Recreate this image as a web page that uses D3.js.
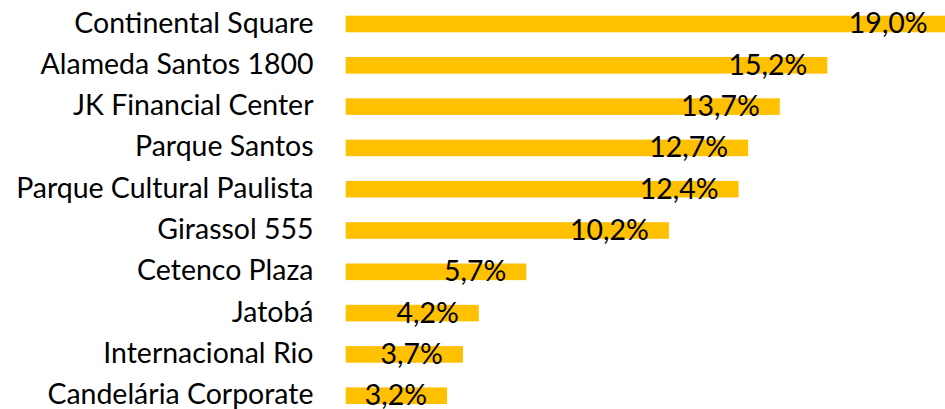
<!DOCTYPE html>
<html>
<head>
<meta charset="utf-8">
<script src="https://cdn.jsdelivr.net/npm/d3@7"></script>
<style>
  html, body { margin: 0; padding: 0; background: #fff; }
  svg { display: block; }
</style>
</head>
<body>
<div id="chart"><svg></svg></div>
<script>
const WIDTH = 945;
const HEIGHT = 409;

// data
const categories = [
  "Continental Square",
  "Alameda Santos 1800",
  "JK Financial Center",
  "Parque Santos",
  "Parque Cultural Paulista",
  "Girassol 555",
  "Cetenco Plaza",
  "Jatobá",
  "Internacional Rio",
  "Candelária Corporate"
];
const shares = [19.0, 15.2, 13.7, 12.7, 12.4, 10.2, 5.7, 4.2, 3.7, 3.2];

const BAR_COLOR = "#FFC000";
const FONT = "Lato, 'Open Sans', sans-serif";

const rows = categories.map((name, i) => ({ name, value: shares[i] }));

const svg = d3.select("#chart svg")
  .attr("width", WIDTH)
  .attr("height", HEIGHT);

// value -> x; the biggest bar runs past the right edge, like the original
const x = d3.scaleLinear()
  .domain([0, 15.2])
  .range([345.7, 827.3]);

const y = d3.scaleBand()
  .domain(categories)
  .range([3.3, 416.4])
  .paddingInner(0.598)
  .paddingOuter(0.3);

// pick a font size so the category text has the same width as the reference
const probe = svg.append("text")
  .style("font-family", FONT)
  .style("font-size", "26px")
  .text("Continental Square");
const probeW = probe.node().getComputedTextLength();
probe.remove();
const fontSize = 26 * 239.3 / probeW;

// bars
svg.append("g")
  .selectAll("rect")
  .data(rows)
  .join("rect")
  .attr("x", x(0))
  .attr("y", d => y(d.name))
  .attr("width", d => x(d.value) - x(0))
  .attr("height", y.bandwidth())
  .attr("fill", BAR_COLOR);

// category labels
svg.append("g")
  .selectAll("text")
  .data(rows)
  .join("text")
  .attr("x", 313.5)
  .attr("y", d => y(d.name) + y.bandwidth() / 2 + 8.6)
  .attr("text-anchor", "end")
  .style("font-family", FONT)
  .style("font-size", fontSize + "px")
  .style("fill", "#000")
  .text(d => d.name);

// value labels, inside the bar end
const fmt = v => d3.format(".1f")(v).replace(".", ",") + "%";

svg.append("g")
  .selectAll("text")
  .data(rows)
  .join("text")
  .attr("x", d => x(d.value) - 20)
  .attr("y", d => y(d.name) + y.bandwidth() / 2 + 9.5)
  .attr("text-anchor", "end")
  .style("font-family", FONT)
  .style("font-size", fontSize + "px")
  .style("fill", "#000")
  .text(d => fmt(d.value));
</script>
</body>
</html>
